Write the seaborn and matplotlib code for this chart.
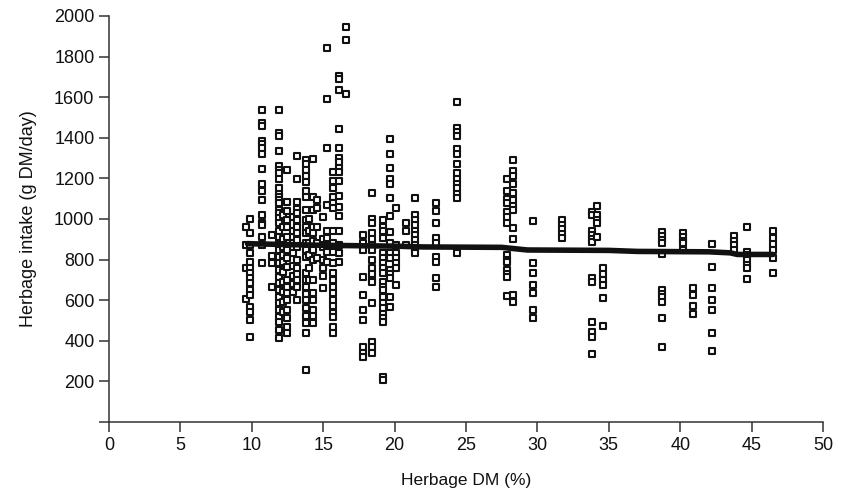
import numpy as np
import pandas as pd
import matplotlib
matplotlib.use("Agg")
import matplotlib.pyplot as plt
import seaborn as sns

dm_a = ([9.6] * 4 + [9.9] * 15 + [10.7] * 17 + [11.4] * 4)
intake_a = [958, 870, 757, 605,
            998, 929, 870, 830, 786, 760, 735, 708, 683, 649, 624, 565, 541, 501, 418,
            1538, 1474, 1460, 1386, 1370, 1351, 1322, 1248, 1174, 1140, 1091, 1017, 978, 968, 909, 870, 781,
            919, 816, 781, 663]

dm_b = ([11.9] * 35 + [12.2] * 11 + [12.5] * 17 + [12.9] * 8 + [13.2] * 16)
intake_b = [1538, 1425, 1410, 1337, 1263, 1243, 1224, 1199, 1150, 1125, 1106, 1091, 1076, 1042, 1027,
            1007, 978, 943, 909, 880, 870, 845, 811, 781, 747, 713, 683, 649, 614, 585, 550, 516, 491, 452, 413,
            1020, 960, 900, 860, 820, 790, 740, 690, 640, 590, 540,
            1243, 1081, 1040, 993, 958, 909, 845, 810, 762, 698, 665, 634, 600, 550, 510, 467, 437,
            1010, 940, 880, 830, 770, 720, 680, 640,
            1312, 1199, 1081, 1050, 1027, 993, 960, 929, 894, 860, 796, 760, 730, 700, 663, 600]

dm_c = ([13.8] * 24 + [14.0] * 6 + [14.3] * 14 + [14.6] * 5)
intake_c = [1292, 1273, 1240, 1210, 1180, 1140, 1106, 1042, 993, 960, 929, 880, 845, 811, 732, 700,
            665, 630, 600, 560, 520, 486, 437, 255,
            1000, 940, 880, 820, 760, 700,
            1297, 1106, 1042, 958, 929, 890, 845, 796, 698, 634, 600, 550, 520, 486,
            1091, 1056, 958, 880, 806]

dm_d = ([15.0] * 7 + [15.3] * 9 + [15.7] * 20 + [16.1] * 17 + [16.6] * 3)
intake_d = [1010, 900, 860, 800, 760, 720, 660,
            1843, 1592, 1347, 1070, 943, 904, 870, 835, 786,
            1233, 1189, 1150, 1110, 1080, 1056, 943, 880, 835, 781, 732, 700, 663, 634, 600, 570, 536,
            516, 467, 437,
            1705, 1690, 1636, 1445, 1347, 1302, 1278, 1253, 1233, 1189, 1115, 1061, 1012, 943, 870, 830, 786,
            1946, 1882, 1617]

dm_e = ([17.8] * 10 + [18.4] * 16 + [19.2] * 20 + [19.7] * 16 + [20.1] * 7 + [20.8] * 3 + [21.4] * 10)
intake_e = [919, 880, 845, 713, 624, 550, 501, 369, 340, 319,
            1130, 1000, 978, 929, 900, 870, 845, 796, 760, 730, 700, 688, 585, 393, 370, 339,
            993, 960, 943, 904, 830, 806, 781, 757, 732, 688, 665, 649, 614, 585, 560, 530, 510, 491, 221, 205,
            1396, 1322, 1253, 1199, 1174, 1101, 1012, 934, 880, 830, 806, 747, 728, 708, 614, 565,
            1056, 870, 830, 806, 781, 757, 673,
            978, 939, 870,
            1101, 1017, 993, 968, 943, 919, 894, 870, 845, 830]

dm_f = ([22.9] * 9 + [24.4] * 14 + [27.9] * 14 + [28.3] * 12 + [29.7] * 7 + [31.7] * 5)
intake_f = [1076, 1037, 978, 904, 880, 811, 786, 708, 663,
            1577, 1450, 1430, 1410, 1346, 1322, 1273, 1224, 1199, 1174, 1150, 1125, 1101, 830,
            1199, 1140, 1096, 1076, 1032, 1010, 978, 820, 800, 786, 747, 730, 713, 619,
            1292, 1238, 1210, 1174, 1130, 1091, 1066, 1042, 953, 899, 624, 590,
            988, 781, 732, 673, 634, 550, 511,
            993, 970, 950, 925, 904]

dm_g = ([33.8] * 12 + [34.2] * 5 + [34.6] * 6 + [38.7] * 11 + [40.2] * 5 + [40.9] * 4
        + [42.2] * 7 + [43.8] * 4 + [44.7] * 7 + [46.5] * 6)
intake_g = [1032, 1017, 943, 920, 900, 885, 708, 688, 491, 442, 418, 334,
            1066, 1017, 997, 978, 909,
            757, 730, 700, 673, 609, 472,
            934, 915, 895, 880, 826, 649, 630, 614, 590, 511, 369,
            929, 910, 890, 880, 845,
            658, 624, 570, 531,
            875, 762, 658, 600, 550, 437, 349,
            914, 890, 870, 845,
            958, 835, 820, 796, 775, 757, 703,
            939, 904, 875, 845, 806, 732]

# fitted curve
fit_dm = [9.7, 15, 20, 22, 27.5, 29.3, 35, 37, 42, 43.5, 44, 46.5]
fit_intake = [878, 870, 866, 862, 860, 847, 845, 840, 838, 833, 825, 825]

df = pd.DataFrame({
    "dm": dm_a + dm_b + dm_c + dm_d + dm_e + dm_f + dm_g,
    "intake": intake_a + intake_b + intake_c + intake_d + intake_e + intake_f + intake_g,
})
fit = pd.DataFrame({"dm": fit_dm, "intake": fit_intake})

sns.set_style("ticks")
plt.rcParams["font.family"] = ["Liberation Sans", "DejaVu Sans"]

fig = plt.figure(figsize=(8.41, 4.97), dpi=100)
ax = fig.add_axes([0.1296, 0.151, 0.849, 0.817])

sns.scatterplot(data=df, x="dm", y="intake", ax=ax, marker="s", s=20,
                facecolor="white", edgecolor="#111111", linewidth=1.5, zorder=2)
sns.lineplot(data=fit, x="dm", y="intake", ax=ax, color="#111111", linewidth=4, zorder=3)

ax.set_xlim(0, 50)
ax.set_ylim(0, 2000)
ax.set_xticks(np.arange(0, 51, 5))
ax.set_yticks(np.arange(0, 2001, 200))
ax.set_yticklabels([""] + [str(v) for v in range(200, 2001, 200)])
ax.tick_params(axis="both", labelsize=13, length=7, width=1.1, color="#333333",
               labelcolor="#111111", direction="out")
for side in ["left", "bottom"]:
    ax.spines[side].set_color("#333333")
    ax.spines[side].set_linewidth(1.1)
sns.despine(ax=ax)

ax.set_xlabel("Herbage DM (%)", fontsize=12.5, labelpad=14, color="#111111")
ax.set_ylabel("Herbage intake (g DM/day)", fontsize=13, labelpad=12, color="#111111")

fig.savefig("out.png", dpi=100)
